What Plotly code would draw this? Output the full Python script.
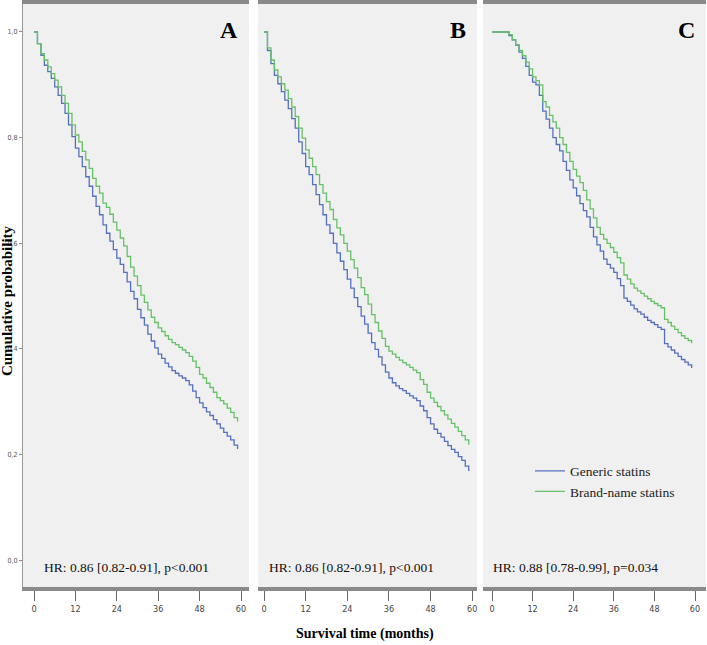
import plotly.graph_objects as go

months = list(range(60))

a_generic = [1.0, 0.978, 0.956, 0.937, 0.925, 0.912, 0.896, 0.880, 0.865, 0.846,
             0.824, 0.802, 0.780, 0.764, 0.745, 0.726, 0.708, 0.689, 0.670, 0.654,
             0.635, 0.619, 0.604, 0.588, 0.572, 0.560, 0.545, 0.527, 0.509, 0.495,
             0.475, 0.459, 0.445, 0.428, 0.415, 0.402, 0.390, 0.382, 0.373, 0.366,
             0.359, 0.354, 0.349, 0.345, 0.340, 0.332, 0.320, 0.308, 0.298, 0.289,
             0.281, 0.274, 0.266, 0.258, 0.250, 0.242, 0.235, 0.228, 0.218, 0.212]
a_brand = [1.0, 0.978, 0.959, 0.947, 0.934, 0.921, 0.909, 0.896, 0.880, 0.865,
           0.846, 0.824, 0.805, 0.792, 0.774, 0.758, 0.742, 0.723, 0.708, 0.695,
           0.676, 0.668, 0.655, 0.640, 0.625, 0.610, 0.595, 0.575, 0.555, 0.538,
           0.520, 0.502, 0.488, 0.474, 0.460, 0.450, 0.440, 0.433, 0.425, 0.418,
           0.412, 0.408, 0.403, 0.398, 0.393, 0.386, 0.377, 0.365, 0.352, 0.345,
           0.335, 0.327, 0.318, 0.308, 0.302, 0.296, 0.288, 0.280, 0.270, 0.264]

b_generic = [1.0, 0.965, 0.940, 0.918, 0.902, 0.887, 0.871, 0.855, 0.836, 0.818,
             0.792, 0.770, 0.745, 0.730, 0.711, 0.692, 0.673, 0.654, 0.635, 0.619,
             0.600, 0.582, 0.566, 0.550, 0.532, 0.515, 0.497, 0.480, 0.462, 0.447,
             0.430, 0.412, 0.399, 0.385, 0.370, 0.356, 0.345, 0.336, 0.330, 0.325,
             0.321, 0.316, 0.311, 0.307, 0.302, 0.292, 0.283, 0.270, 0.258, 0.248,
             0.240, 0.233, 0.225, 0.217, 0.210, 0.204, 0.196, 0.189, 0.178, 0.170]
b_brand = [1.0, 0.970, 0.947, 0.928, 0.915, 0.902, 0.890, 0.874, 0.858, 0.840,
           0.818, 0.799, 0.777, 0.761, 0.745, 0.730, 0.711, 0.695, 0.679, 0.664,
           0.645, 0.629, 0.616, 0.600, 0.585, 0.569, 0.553, 0.535, 0.516, 0.503,
           0.485, 0.465, 0.450, 0.434, 0.420, 0.405, 0.396, 0.390, 0.384, 0.379,
           0.374, 0.370, 0.365, 0.360, 0.355, 0.342, 0.333, 0.318, 0.307, 0.299,
           0.291, 0.283, 0.275, 0.267, 0.259, 0.252, 0.244, 0.236, 0.228, 0.220]

c_generic = [1.0, 1.0, 1.0, 1.0, 1.0, 0.993, 0.985, 0.975, 0.962, 0.950,
             0.935, 0.918, 0.905, 0.900, 0.880, 0.850, 0.835, 0.818, 0.800, 0.787,
             0.775, 0.755, 0.738, 0.720, 0.705, 0.690, 0.675, 0.662, 0.650, 0.630,
             0.612, 0.597, 0.585, 0.570, 0.560, 0.553, 0.545, 0.533, 0.520, 0.496,
             0.490, 0.483, 0.476, 0.470, 0.466, 0.460, 0.454, 0.450, 0.446, 0.441,
             0.437, 0.410, 0.404, 0.398, 0.392, 0.386, 0.380, 0.375, 0.370, 0.365]
c_brand = [1.0, 1.0, 1.0, 1.0, 1.0, 0.995, 0.985, 0.976, 0.965, 0.955,
           0.943, 0.930, 0.915, 0.908, 0.900, 0.868, 0.858, 0.842, 0.830, 0.818,
           0.800, 0.787, 0.772, 0.755, 0.740, 0.727, 0.715, 0.700, 0.682, 0.665,
           0.648, 0.630, 0.617, 0.608, 0.600, 0.592, 0.583, 0.573, 0.563, 0.540,
           0.532, 0.523, 0.515, 0.510, 0.505, 0.500, 0.495, 0.490, 0.486, 0.482,
           0.478, 0.456, 0.450, 0.443, 0.437, 0.431, 0.425, 0.420, 0.416, 0.412]

end_time = [59.2, 59.2, 59.2]
panel_labels = ["A", "B", "C"]
hr_texts = ["HR: 0.86 [0.82-0.91], p<0.001",
            "HR: 0.86 [0.82-0.91], p<0.001",
            "HR: 0.88 [0.78-0.99], p=0.034"]
series_names = ["Generic statins", "Brand-name statins"]
x_ticks = [0, 12, 24, 36, 48, 60]
y_ticks = [0.0, 0.2, 0.4, 0.6, 0.8, 1.0]
y_tick_text = ["0,0", "0,2", "0,4", "0,6", "0,8", "1,0"]

BLUE = "#5470c0"
GREEN = "#66c266"
SERIF = "Liberation Serif, Times New Roman, serif"

panels = [(a_generic, a_brand), (b_generic, b_brand), (c_generic, c_brand)]
W, H = 707, 645
x_domains = [[23 / W, 249 / W], [258 / W, 477 / W], [483 / W, 706 / W]]
x_ranges = [[-3.19, 62.32], [-1.73, 61.38], [-2.66, 63.25]]
y_domain = [1 - 587 / H, 1 - 2 / H]
y_range = [-0.051, 1.053]

fig = go.Figure()
for i, (gen, brand) in enumerate(panels):
    xa = "x" if i == 0 else f"x{i+1}"
    ya = "y" if i == 0 else f"y{i+1}"
    t = months + [end_time[i]]
    for vals, name, col in [(gen, series_names[0], BLUE), (brand, series_names[1], GREEN)]:
        fig.add_trace(go.Scatter(
            x=t, y=vals + [vals[-1]], mode="lines", line=dict(color=col, width=1.3, shape="hv"),
            name=name, showlegend=(i == 2), xaxis=xa, yaxis=ya, hoverinfo="skip"))

layout = dict(
    width=W, height=H, margin=dict(l=0, r=0, t=0, b=0),
    paper_bgcolor="white", plot_bgcolor="#f0f0f0",
    showlegend=True,
    legend=dict(x=530 / W, y=1 - 455 / H, xanchor="left", yanchor="top",
                bgcolor="rgba(0,0,0,0)", font=dict(family=SERIF, size=13.5, color="#222"),
                itemwidth=30, tracegroupgap=0),
)
for i in range(3):
    sx = "" if i == 0 else str(i + 1)
    layout["xaxis" + sx] = dict(
        domain=x_domains[i], range=x_ranges[i], anchor="y" + sx,
        tickmode="array", tickvals=x_ticks, ticktext=[str(v) for v in x_ticks],
        ticks="outside", ticklen=10, tickwidth=1, tickcolor="#666",
        tickfont=dict(family="DejaVu Sans Condensed, Liberation Sans Narrow, sans-serif", size=9, color="#444"),
        showgrid=False, zeroline=False, showline=True, linewidth=4, linecolor="#8a8a8a",
        mirror=True, fixedrange=True)
    layout["yaxis" + sx] = dict(
        domain=y_domain, range=y_range, anchor="x" + sx,
        showgrid=False, zeroline=False, fixedrange=True,
        showticklabels=(i == 0),
        tickmode="array", tickvals=y_ticks, ticktext=y_tick_text,
        ticks="outside" if i == 0 else "", ticklen=3, tickcolor="#888",
        tickangle=0,
        tickfont=dict(family="DejaVu Sans Condensed, sans-serif", size=7, color="#555"),
        showline=(i == 0), linewidth=1, linecolor="#9a9a9a")
fig.update_layout(**layout)

ann = []
for i in range(3):
    sx = "" if i == 0 else str(i + 1)
    ann.append(dict(text="<b>" + panel_labels[i] + "</b>", xref=f"x{sx} domain", yref="paper",
                    x=0.96, y=1 - 28 / H, xanchor="right", yanchor="middle", showarrow=False,
                    font=dict(family=SERIF, size=24, color="black")))
    ann.append(dict(text=hr_texts[i], xref=f"x{sx} domain", yref="paper",
                    x=(42 - 23) / 226 if i == 0 else (267 - 258) / 219 if i == 1 else (491 - 483) / 223,
                    y=1 - 567 / H, xanchor="left", yanchor="middle", showarrow=False,
                    font=dict(family=SERIF, size=13.5, color="#111")))
ann.append(dict(text="<b>Cumulative probability</b>", xref="paper", yref="paper",
                x=7 / W, y=1 - 300 / H, textangle=-90, showarrow=False,
                xanchor="center", yanchor="middle",
                font=dict(family=SERIF, size=15, color="black")))
ann.append(dict(text="<b>Survival time (months)</b>", xref="paper", yref="paper",
                x=365 / W, y=1 - 634 / H, showarrow=False,
                xanchor="center", yanchor="middle",
                font=dict(family=SERIF, size=14, color="black")))
fig.update_layout(annotations=ann)

fig.write_html("out.html", config={"displayModeBar": False},
               post_script="document.body.style.margin='0';document.body.style.overflow='hidden';")
